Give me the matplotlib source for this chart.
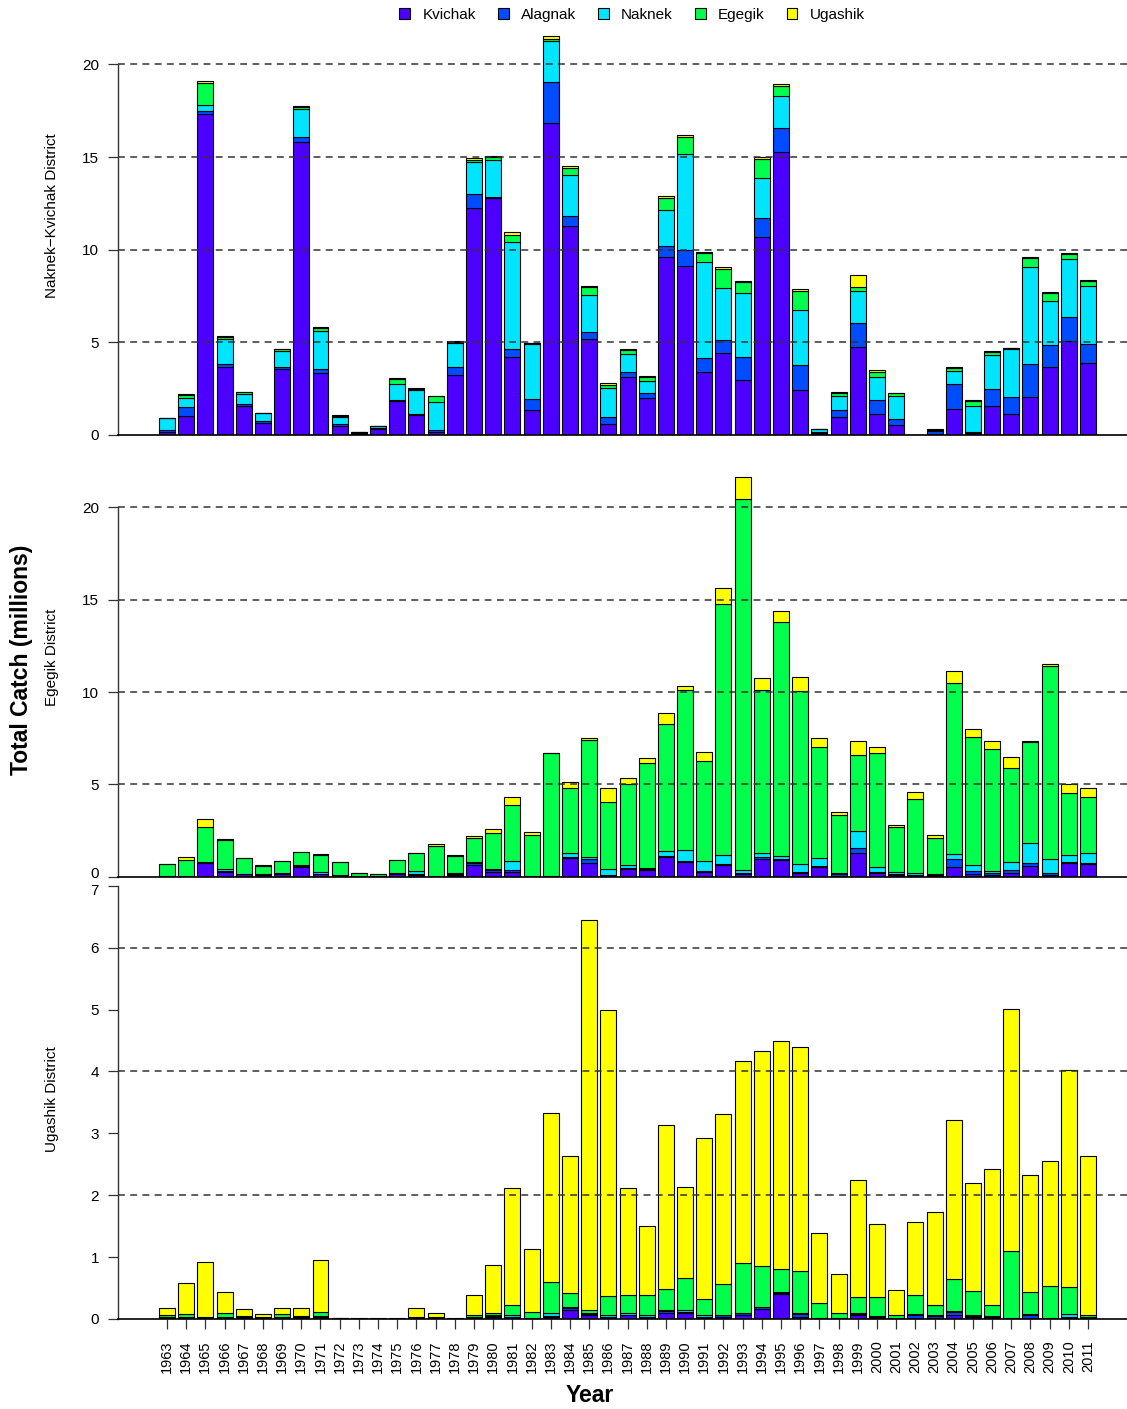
import matplotlib
matplotlib.use("Agg")
import matplotlib.pyplot as plt
from matplotlib.patches import Patch
from matplotlib.transforms import ScaledTranslation
import numpy as np

plt.rcParams['font.family'] = ['Liberation Sans', 'DejaVu Sans']

years = list(range(1963, 2012))
stocks = ["Kvichak", "Alagnak", "Naknek", "Egegik", "Ugashik"]
stock_colors = ["#4C00FF", "#004CFF", "#00E5FF", "#00FF4D", "#FFFF00"]

# Naknek-Kvichak District catch by stock of origin (millions of fish)
nk_kvichak = [0.15, 1.03, 17.32, 3.69, 1.58, 0.67, 3.56, 15.81, 3.33, 0.49,
              0.08, 0.32, 1.85, 1.08, 0.18, 3.22, 12.23, 12.80, 4.23, 1.35,
              16.82, 11.28, 5.18, 0.59, 3.15, 2.00, 9.59, 9.12, 3.42, 4.44,
              2.97, 10.67, 15.29, 2.43, 0.13, 0.95, 4.73, 1.13, 0.54, 0.02,
              0.06, 1.40, 0.09, 1.58, 1.13, 2.07, 3.65, 5.09, 3.90]
nk_alagnak = [0.12, 0.50, 0.16, 0.13, 0.09, 0.09, 0.11, 0.25, 0.25, 0.10,
              0.03, 0.07, 0.03, 0.05, 0.09, 0.47, 0.79, 0.05, 0.40, 0.61,
              2.25, 0.56, 0.36, 0.40, 0.27, 0.25, 0.61, 0.86, 0.76, 0.68,
              1.26, 1.04, 1.29, 1.35, 0.05, 0.40, 1.29, 0.76, 0.32, 0.00,
              0.14, 1.35, 0.09, 0.88, 0.94, 1.74, 1.20, 1.29, 1.00]
nk_naknek = [0.63, 0.49, 0.32, 1.35, 0.54, 0.41, 0.88, 1.53, 2.03, 0.40,
             0.03, 0.07, 0.88, 1.29, 1.49, 1.26, 1.69, 2.00, 5.77, 2.95,
             2.19, 2.21, 2.01, 1.53, 0.94, 0.67, 1.94, 5.16, 5.13, 2.82,
             3.45, 2.14, 1.74, 2.97, 0.12, 0.77, 1.74, 1.22, 1.24, 0.00,
             0.06, 0.72, 1.38, 1.85, 2.57, 5.27, 2.37, 3.13, 3.13]
nk_egegik = [0.03, 0.15, 1.17, 0.14, 0.09, 0.03, 0.07, 0.13, 0.14, 0.05,
             0.01, 0.02, 0.27, 0.06, 0.34, 0.08, 0.14, 0.15, 0.41, 0.03,
             0.10, 0.38, 0.45, 0.20, 0.22, 0.23, 0.63, 0.95, 0.52, 1.04,
             0.58, 1.04, 0.54, 1.03, 0.04, 0.16, 0.23, 0.31, 0.14, 0.00,
             0.03, 0.16, 0.27, 0.16, 0.04, 0.47, 0.45, 0.25, 0.27]
nk_ugashik = [0.01, 0.03, 0.13, 0.05, 0.03, 0.01, 0.02, 0.05, 0.08, 0.03,
              0.01, 0.01, 0.04, 0.03, 0.03, 0.04, 0.08, 0.07, 0.12, 0.02,
              0.15, 0.07, 0.04, 0.10, 0.04, 0.03, 0.11, 0.08, 0.07, 0.10,
              0.05, 0.10, 0.08, 0.12, 0.01, 0.05, 0.63, 0.07, 0.04, 0.00,
              0.01, 0.04, 0.04, 0.05, 0.02, 0.05, 0.04, 0.07, 0.05]

# Egegik District catch by stock of origin
eg_kvichak = [0.02, 0.03, 0.76, 0.27, 0.12, 0.08, 0.15, 0.55, 0.12, 0.04,
              0.03, 0.02, 0.14, 0.08, 0.02, 0.10, 0.65, 0.28, 0.28, 0.02,
              0.02, 1.02, 0.76, 0.06, 0.42, 0.34, 1.06, 0.80, 0.26, 0.62,
              0.13, 0.98, 0.88, 0.20, 0.50, 0.06, 1.26, 0.20, 0.07, 0.04,
              0.04, 0.54, 0.14, 0.10, 0.20, 0.60, 0.10, 0.72, 0.67]
eg_alagnak = [0.01, 0.01, 0.01, 0.04, 0.03, 0.03, 0.04, 0.04, 0.05, 0.02,
              0.01, 0.005, 0.04, 0.04, 0.01, 0.05, 0.10, 0.08, 0.06, 0.01,
              0.01, 0.06, 0.20, 0.03, 0.05, 0.05, 0.08, 0.06, 0.07, 0.06,
              0.06, 0.10, 0.07, 0.08, 0.08, 0.06, 0.27, 0.08, 0.05, 0.04,
              0.06, 0.40, 0.16, 0.08, 0.18, 0.15, 0.08, 0.08, 0.08]
eg_naknek = [0.01, 0.01, 0.01, 0.08, 0.02, 0.02, 0.02, 0.02, 0.08, 0.02,
             0.01, 0.005, 0.02, 0.17, 0.02, 0.03, 0.05, 0.05, 0.50, 0.02,
             0.02, 0.20, 0.08, 0.30, 0.16, 0.10, 0.25, 0.60, 0.50, 0.52,
             0.18, 0.22, 0.16, 0.42, 0.44, 0.10, 0.96, 0.25, 0.15, 0.12,
             0.06, 0.28, 0.36, 0.12, 0.44, 1.10, 0.76, 0.38, 0.54]
eg_egegik = [0.63, 0.84, 1.89, 1.57, 0.82, 0.47, 0.62, 0.72, 0.90, 0.71,
             0.16, 0.11, 0.70, 0.97, 1.60, 0.96, 1.30, 1.96, 3.04, 2.20,
             6.63, 3.50, 6.35, 3.67, 4.37, 5.68, 6.86, 8.63, 5.44, 13.55,
             20.06, 8.80, 12.69, 9.38, 6.00, 3.10, 4.09, 6.17, 2.44, 4.03,
             1.95, 9.28, 6.93, 6.63, 5.04, 5.45, 10.48, 3.37, 3.00]
eg_ugashik = [0.01, 0.15, 0.47, 0.09, 0.03, 0.02, 0.03, 0.02, 0.10, 0.02,
              0.01, 0.005, 0.03, 0.03, 0.10, 0.03, 0.12, 0.19, 0.43, 0.15,
              0.03, 0.36, 0.14, 0.76, 0.32, 0.27, 0.61, 0.25, 0.50, 0.90,
              1.19, 0.64, 0.60, 0.71, 0.47, 0.16, 0.78, 0.30, 0.11, 0.34,
              0.13, 0.65, 0.40, 0.43, 0.60, 0.06, 0.08, 0.47, 0.49]

# Ugashik District catch by stock of origin
ug_kvichak = [0.02, 0.02, 0.01, 0.02, 0.02, 0.01, 0.02, 0.02, 0.02, 0.005,
              0.005, 0.005, 0.005, 0.01, 0.01, 0.005, 0.02, 0.03, 0.03, 0.01,
              0.03, 0.14, 0.06, 0.03, 0.06, 0.03, 0.10, 0.09, 0.02, 0.04,
              0.06, 0.16, 0.40, 0.04, 0.01, 0.01, 0.06, 0.02, 0.01, 0.02,
              0.02, 0.06, 0.03, 0.02, 0.005, 0.02, 0.005, 0.02, 0.02]
ug_alagnak = [0.01, 0.01, 0.005, 0.01, 0.01, 0.005, 0.01, 0.005, 0.01, 0.0,
              0.0, 0.0, 0.0, 0.005, 0.0, 0.0, 0.01, 0.02, 0.01, 0.005,
              0.02, 0.04, 0.02, 0.01, 0.01, 0.01, 0.03, 0.02, 0.01, 0.02,
              0.03, 0.03, 0.02, 0.04, 0.005, 0.005, 0.02, 0.02, 0.005, 0.04,
              0.03, 0.05, 0.02, 0.02, 0.005, 0.05, 0.005, 0.02, 0.01]
ug_naknek = [0.01, 0.01, 0.005, 0.01, 0.005, 0.005, 0.01, 0.005, 0.02, 0.0,
             0.0, 0.0, 0.0, 0.005, 0.0, 0.0, 0.01, 0.01, 0.02, 0.005,
             0.04, 0.02, 0.02, 0.02, 0.02, 0.02, 0.02, 0.04, 0.03, 0.01,
             0.01, 0.01, 0.01, 0.02, 0.005, 0.005, 0.01, 0.01, 0.005, 0.02,
             0.01, 0.02, 0.02, 0.01, 0.005, 0.01, 0.01, 0.04, 0.01]
ug_egegik = [0.02, 0.04, 0.02, 0.05, 0.02, 0.02, 0.04, 0.02, 0.06, 0.01,
             0.003, 0.003, 0.003, 0.02, 0.02, 0.003, 0.03, 0.04, 0.16, 0.10,
             0.51, 0.22, 0.05, 0.31, 0.29, 0.32, 0.33, 0.51, 0.26, 0.50,
             0.81, 0.65, 0.38, 0.68, 0.24, 0.07, 0.27, 0.31, 0.04, 0.31,
             0.16, 0.52, 0.39, 0.17, 1.08, 0.35, 0.51, 0.43, 0.02]
ug_ugashik = [0.12, 0.50, 0.88, 0.35, 0.105, 0.04, 0.09, 0.12, 0.84, 0.005,
              0.002, 0.002, 0.002, 0.13, 0.06, 0.002, 0.31, 0.78, 1.89, 1.01,
              2.73, 2.22, 6.30, 4.62, 1.74, 1.13, 2.65, 1.48, 2.61, 2.74,
              3.25, 3.48, 3.68, 3.62, 1.13, 0.63, 1.89, 1.17, 0.41, 1.17,
              1.51, 2.56, 1.74, 2.20, 3.92, 1.89, 2.02, 3.51, 2.57]

district_names = ["Naknek\u2212Kvichak District", "Egegik District", "Ugashik District"]
district_series = [
    [nk_kvichak, nk_alagnak, nk_naknek, nk_egegik, nk_ugashik],
    [eg_kvichak, eg_alagnak, eg_naknek, eg_egegik, eg_ugashik],
    [ug_kvichak, ug_alagnak, ug_naknek, ug_egegik, ug_ugashik],
]
y_ticks = [[0, 5, 10, 15, 20], [0, 5, 10, 15, 20], [0, 1, 2, 3, 4, 5, 6, 7]]
y_grid = [[5, 10, 15, 20], [5, 10, 15, 20], [2, 4, 6]]

W, H = 1127, 1409
fig = plt.figure(figsize=(W / 100, H / 100), dpi=100)

# panel frames in pixels: (left, top, right, bottom, pixels per unit)
frames = [
    (118, 30, 1127, 435, 18.53),
    (118, 470, 1127, 876.7, 18.47),
    (118, 880, 1127, 1319, 61.9),
]
label_y = [216, 657, 1099]

x = np.arange(len(years))
bar_w = 0.833
axes = []

for k, (l, t, r, b, ppu) in enumerate(frames):
    ax = fig.add_axes([l / W, 1 - b / H, (r - l) / W, (b - t) / H])
    axes.append(ax)
    ax.set_xlim(-2.553, 50.03)
    ax.set_ylim(0, (b - t) / ppu)
    base = np.zeros(len(years))
    for vals, col in zip(district_series[k], stock_colors):
        v = np.array(vals, dtype=float)
        ax.bar(x, v, width=bar_w, bottom=base, color=col,
               edgecolor="black", linewidth=0.8, zorder=2)
        base += v
    for g in y_grid[k]:
        ax.axhline(g, color="#333333", linestyle=(0, (4.5, 3.5)),
                   linewidth=1.1, zorder=3)
    for side in ("top", "right"):
        ax.spines[side].set_visible(False)
    ax.spines["left"].set_bounds(y_ticks[k][0], y_ticks[k][-1])
    ax.spines["left"].set_color("#333333")
    ax.spines["left"].set_linewidth(1.0)
    ax.spines["bottom"].set_color("black")
    ax.spines["bottom"].set_linewidth(1.2)
    ax.spines["bottom"].set_zorder(4)
    ax.set_yticks(y_ticks[k])
    ax.tick_params(axis="y", direction="out", length=7.2, width=0.9,
                   color="#333333", pad=6.5, labelsize=11)
    if k < 2:
        ax.set_xticks([])
    else:
        ax.set_xticks(x)
        ax.set_xticklabels([str(yr) for yr in years], rotation=90, fontsize=10.5)
        ax.tick_params(axis="x", direction="out", length=7.2, width=0.9,
                       color="#333333", pad=8)
    fig.text(52 / W, 1 - label_y[k] / H, district_names[k], rotation=90,
             ha="center", va="center", fontsize=11)

# the Egegik "0" and the Ugashik "7" sit almost on top of each other;
# ease them a few pixels apart
lab0 = axes[1].yaxis.get_major_ticks()[0].label1
lab0.set_transform(lab0.get_transform() + ScaledTranslation(0, 3 / 72, fig.dpi_scale_trans))
lab7 = axes[2].yaxis.get_major_ticks()[-1].label1
lab7.set_transform(lab7.get_transform() + ScaledTranslation(0, -3 / 72, fig.dpi_scale_trans))

fig.text(22 / W, 1 - 660 / H, "Total Catch (millions)", rotation=90,
         ha="center", va="center", fontsize=16.5, fontweight="bold")
fig.text(590 / W, 1 - 1395 / H, "Year", ha="center", va="center",
         fontsize=16.5, fontweight="bold")

handles = [Patch(facecolor=c, edgecolor="black", linewidth=0.8) for c in stock_colors]
fig.legend(handles, stocks, loc="center", bbox_to_anchor=(632 / W, 1 - 15 / H),
           ncol=5, frameon=False, fontsize=11, handlelength=0.7,
           handleheight=0.7, handletextpad=0.8, columnspacing=1.45)

fig.savefig("out.png", dpi=100)
